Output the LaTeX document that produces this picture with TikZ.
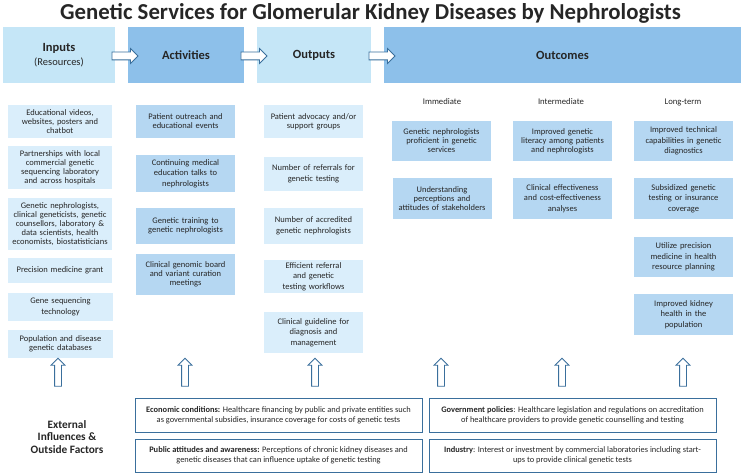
\documentclass[tikz,border=0pt]{standalone}
\usepackage{fontspec}
\setmainfont{Carlito}
\usetikzlibrary{shapes.arrows}
\definecolor{hlight}{HTML}{C5E6F7}
\definecolor{hdark}{HTML}{8DC0EA}
\definecolor{clight}{HTML}{DAEEFB}
\definecolor{cdark}{HTML}{B5D7F2}
\definecolor{aline}{HTML}{3A6F9C}
\definecolor{txt}{HTML}{262626}
\begin{document}
\begin{tikzpicture}[x=1pt,y=-1pt,
  hdr/.style={inner sep=0pt, align=center, text=txt, font=\fontsize{12.5}{14}\selectfont\bfseries},
  cbox/.style={inner sep=0pt, align=center, text=txt, text width=#1, minimum width=#1},
  cbox/.default=99pt,
  tight/.style={font=\fontsize{8.5}{9}\selectfont},
  loose/.style={font=\fontsize{8.5}{10.5}\selectfont},
  lite/.style={fill=clight},
  dark/.style={fill=cdark},
  rarrow/.style={single arrow, draw=aline, fill=white, line width=0.8pt, inner sep=3.5pt,
    single arrow head extend=3.5pt, minimum height=26pt, minimum width=0pt},
  uarrow/.style={single arrow, draw=aline, fill=white, line width=0.8pt, inner sep=3pt,
    single arrow head extend=3.5pt, minimum height=28pt, minimum width=0pt, shape border rotate=90},
  ebox/.style={draw=aline, line width=0.9pt, inner sep=0pt, align=center, text=txt,
    minimum width=287pt, minimum height=34pt, font=\fontsize{8.4}{9.5}\selectfont},
  collabel/.style={inner sep=0pt, text=txt, font=\fontsize{8.7}{10}\selectfont}
]
\useasboundingbox (0,0) rectangle (741,473);

% title
\node[inner sep=0pt, text=txt, font=\fontsize{22.8}{26}\selectfont\bfseries] (title) at (370.5,13) {Genetic Services for Glomerular Kidney Diseases by Nephrologists};

% headers
\node[hdr, fill=hlight, minimum width=112pt, minimum height=56pt] (hin) at (59,55) {Inputs\\[0pt]{\fontsize{10.5}{12}\selectfont\mdseries (Resources)}};
\node[hdr, fill=hdark, minimum width=116pt, minimum height=56pt] (hact) at (186,55) {Activities};
\node[hdr, fill=hlight, minimum width=114pt, minimum height=56pt] (hout) at (314,55) {Outputs};
\node[hdr, fill=hdark, minimum width=357pt, minimum height=56pt] (hoc) at (562.5,55) {Outcomes};

\node[rarrow] (a1) at (123,56) {};
\node[rarrow] (a2) at (252,56) {};
\node[rarrow] (a3) at (380,56) {};

% inputs
\node[cbox=104pt, lite, tight, minimum height=33pt] (i1) at (60,121.5) {Educational videos,\\websites, posters and\\chatbot};
\node[cbox=104pt, lite, tight, minimum height=43pt] (i2) at (60,167.5) {Partnerships with local\\commercial genetic\\sequencing laboratory\\and across hospitals};
\node[cbox=104pt, lite, tight, minimum height=52pt] (i3) at (60,224) {Genetic nephrologists,\\clinical geneticists, genetic\\counsellors, laboratory \&\\data scientists, health\\economists, biostatisticians};
\node[cbox=104pt, lite, tight, minimum height=25pt] (i4) at (60,270.5) {Precision medicine grant};
\node[cbox=105pt, lite, font=\fontsize{8.5}{11}\selectfont, minimum height=28pt] (i5) at (60.5,307) {Gene sequencing\\technology};
\node[cbox=105pt, lite, tight, minimum height=28pt] (i6) at (60.5,344) {Population and disease\\genetic databases};

% activities
\node[cbox, dark, tight, minimum height=33pt] (ac1) at (185.5,121.5) {Patient outreach and\\educational events};
\node[cbox, dark, loose, minimum height=37pt] (ac2) at (185.5,173.5) {Continuing medical\\education talks to\\nephrologists};
\node[cbox, dark, tight, minimum height=36pt] (ac3) at (185.5,226) {Genetic training to\\genetic nephrologists};
\node[cbox, dark, tight, minimum height=41pt] (ac4) at (185.5,274.5) {Clinical genomic board\\and variant curation\\meetings};

% outputs
\node[cbox, lite, font=\fontsize{8.5}{9.3}\selectfont, minimum height=33pt] (o1) at (313.5,121.5) {Patient advocacy and/or\\support groups};
\node[cbox, lite, loose, minimum height=34pt] (o2) at (313.5,174) {Number of referrals for\\genetic testing};
\node[cbox, lite, loose, minimum height=36pt] (o3) at (313.5,226) {Number of accredited\\genetic nephrologists};
\node[cbox, lite, loose, minimum height=33pt] (o4) at (313.5,276.5) {Efficient referral\\and genetic\\testing workflows};
\node[cbox, lite, loose, minimum height=41pt] (o5) at (313.5,332.5) {Clinical guideline for\\diagnosis and\\management};

% outcome column labels
\node[collabel] (limm) at (442,102) {Immediate};
\node[collabel] (lint) at (561,102) {Intermediate};
\node[collabel] (llong) at (683,102) {Long-term};

% immediate
\node[cbox, dark, tight, minimum height=40pt] (im1) at (441.5,141) {Genetic nephrologists\\proficient in genetic\\services};
\node[cbox, dark, tight, minimum height=41pt] (im2) at (442,198.5) {Understanding\\perceptions and\\attitudes of stakeholders};

% intermediate
\node[cbox, dark, tight, minimum height=40pt] (in1) at (562.5,141) {Improved genetic\\literacy among patients\\and nephrologists};
\node[cbox, dark, loose, minimum height=41pt] (in2) at (562.5,198.5) {Clinical effectiveness\\and cost-effectiveness\\analyses};

% long-term
\node[cbox, dark, loose, minimum height=40pt] (lt1) at (683.5,141) {Improved technical\\capabilities in genetic\\diagnostics};
\node[cbox, dark, loose, minimum height=41pt] (lt2) at (683.5,198.5) {Subsidized genetic\\testing or insurance\\coverage};
\node[cbox, dark, loose, minimum height=40pt] (lt3) at (683.5,257) {Utilize precision\\medicine in health\\resource planning};
\node[cbox, dark, loose, minimum height=41pt] (lt4) at (683.5,314.5) {Improved kidney\\health in the\\population};

% up arrows
\node[uarrow] (u1) at (58,374) {};
\node[uarrow] (u2) at (185,374) {};
\node[uarrow] (u3) at (315,374) {};
\node[uarrow] (u4) at (441,374) {};
\node[uarrow] (u5) at (562,374) {};
\node[uarrow] (u6) at (683,374) {};

% external factors
\node[inner sep=0pt, align=center, text=txt, font=\fontsize{11.3}{12.5}\selectfont\bfseries] (ext) at (67,437) {External\\Influences \&\\Outside Factors};

\node[ebox] (econ) at (278.5,415.5) {\textbf{Economic conditions:} Healthcare financing by public and private entities such\\as governmental subsidies, insurance coverage for costs of genetic tests};
\node[ebox, minimum height=33pt] (pub) at (278.5,455.5) {\textbf{Public attitudes and awareness:} Perceptions of chronic kidney diseases and\\genetic diseases that can influence uptake of genetic testing};
\node[ebox] (gov) at (572.5,415.5) {\textbf{Government policies}: Healthcare legislation and regulations on accreditation\\of healthcare providers to provide genetic counselling and testing};
\node[ebox, minimum height=33pt] (ind) at (572.5,455.5) {\textbf{Industry}: Interest or investment by commercial laboratories including start-\\ups to provide clinical genetic tests};
\end{tikzpicture}
\end{document}
